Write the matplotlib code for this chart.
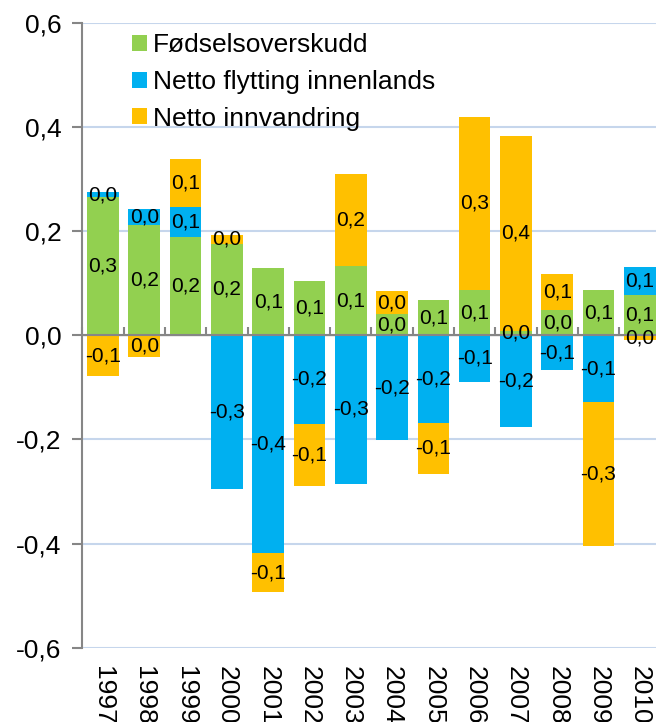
import numpy as np
import matplotlib.pyplot as plt
from matplotlib.ticker import FuncFormatter, FixedLocator, NullFormatter

plt.rcParams['font.family'] = ['Liberation Sans', 'DejaVu Sans']

years = [str(y) for y in range(1997, 2011)]
fodsel = [0.265, 0.212, 0.188, 0.176, 0.129, 0.105, 0.133, 0.041, 0.067, 0.087, 0.009, 0.048, 0.087, 0.077]
flytting = [0.009, 0.031, 0.059, -0.296, -0.419, -0.170, -0.285, -0.202, -0.168, -0.089, -0.177, -0.067, -0.129, 0.053]
innvandring = [-0.078, -0.041, 0.092, 0.017, -0.074, -0.120, 0.177, 0.043, -0.099, 0.332, 0.373, 0.069, -0.275, -0.010]

series = [
    ("Fødselsoverskudd", fodsel, "#92D050"),
    ("Netto flytting innenlands", flytting, "#00B0F0"),
    ("Netto innvandring", innvandring, "#FFC000"),
]


def komma(v, pos=None):
    s = f"{v:.1f}".replace('.', ',')
    if s == "-0,0":
        s = "0,0"
    return s


fig = plt.figure(figsize=(6.56, 7.22), dpi=100)
ax = fig.add_axes([82.3 / 656, 1 - 647.7 / 722, 578.2 / 656, 625 / 722])

x = np.arange(len(years))
pos_base = np.zeros(len(years))
neg_base = np.zeros(len(years))
for name, vals, color in series:
    v = np.array(vals)
    bottom = np.where(v >= 0, pos_base, neg_base)
    bars = ax.bar(x, v, 0.767, bottom=bottom, color=color, label=name, zorder=2, linewidth=0)
    ax.bar_label(bars, fmt=komma, label_type='center', fontsize=15, zorder=4)
    pos_base += np.where(v >= 0, v, 0)
    neg_base += np.where(v < 0, v, 0)

ax.set_xlim(-0.5, len(years) - 0.5)
ax.set_ylim(-0.6, 0.6)
ax.set_yticks(np.arange(-0.6, 0.61, 0.2))
ax.yaxis.set_major_formatter(FuncFormatter(komma))
ax.yaxis.grid(True, color="#C6D6EC", linewidth=1.5, zorder=0)
ax.set_axisbelow(True)

for side in ['top', 'right', 'bottom']:
    ax.spines[side].set_visible(False)
ax.spines['left'].set_color("#868686")
ax.spines['left'].set_linewidth(1.5)
ax.tick_params(axis='y', colors="#868686", length=7, width=1.5, labelsize=19, labelcolor='black', pad=8)

ax.set_xticks(x)
ax.set_xticklabels(years, rotation=270, fontsize=19)
ax.tick_params(axis='x', length=0, pad=13)

# category axis crossing at zero
ax.axhline(0, color="#868686", linewidth=1.5, zorder=3)
sec = ax.secondary_xaxis(0.5)
sec.spines['bottom'].set_visible(False)
sec.xaxis.set_major_locator(FixedLocator(np.arange(-0.5, len(years), 1)))
sec.xaxis.set_major_formatter(NullFormatter())
sec.tick_params(axis='x', colors="#868686", length=6, width=1.5)

ax.legend(loc='upper left', bbox_to_anchor=(0.068, 1.0), frameon=False, fontsize=19,
          handlelength=0.55, handleheight=0.55, handletextpad=0.25, labelspacing=0.48,
          borderaxespad=0)

fig.savefig("out.png", dpi=100)
